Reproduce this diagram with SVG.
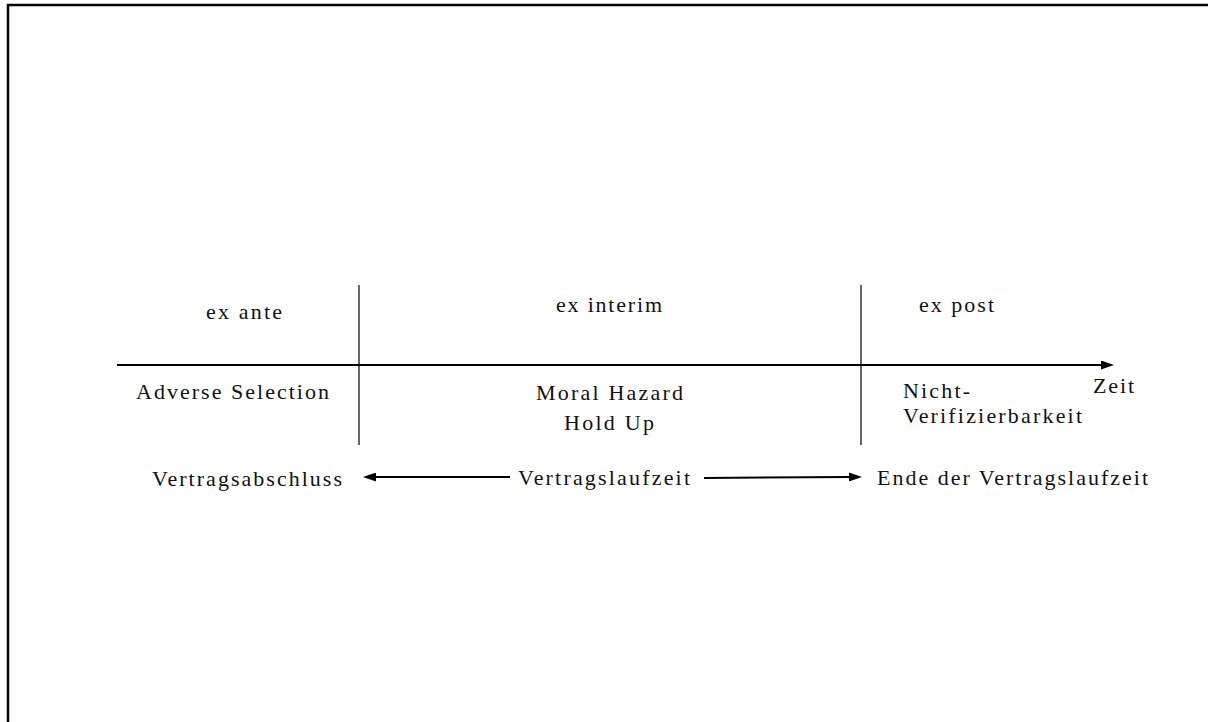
<svg xmlns="http://www.w3.org/2000/svg" width="1208" height="722" viewBox="0 0 1208 722">
<style>
  .thick { stroke: #000; stroke-width: 2; fill: none; }
  .thin { stroke: #000; stroke-width: 1.2; fill: none; }
</style>
<defs>
  <marker id="arrow" markerUnits="userSpaceOnUse" markerWidth="13" markerHeight="9" refX="0" refY="4.5" orient="auto">
    <path d="M0,0 L13,4.5 L0,9 z" fill="#000"/>
  </marker>
</defs>
<rect x="0" y="0" width="1208" height="722" fill="#fff"/>
<g id="frame">
  <line x1="7" y1="5" x2="1208" y2="5" stroke="#000" stroke-width="2.5"/>
  <line x1="8" y1="4" x2="8" y2="722" stroke="#000" stroke-width="2.5"/>
</g>
<g id="connectors">
  <line id="axis" class="thick" x1="117" y1="365" x2="1101" y2="365" marker-end="url(#arrow)"/>
  <line id="divider1" class="thin" x1="359" y1="285" x2="359" y2="445"/>
  <line id="divider2" class="thin" x1="861" y1="285" x2="861" y2="445"/>
  <line id="arrow-left" class="thick" x1="510" y1="477" x2="376" y2="477" marker-end="url(#arrow)"/>
  <line id="arrow-right" class="thick" x1="704" y1="478" x2="849" y2="477" marker-end="url(#arrow)"/>
</g>
<g font-family="Liberation Serif, Times New Roman, serif" font-size="22" fill="#111">
<g id="ex-ante"><text x="206" y="319" textLength="76" lengthAdjust="spacing">ex ante</text></g>
<g id="ex-interim"><text x="556" y="312" textLength="106" lengthAdjust="spacing">ex interim</text></g>
<g id="ex-post"><text x="919" y="312" textLength="75" lengthAdjust="spacing">ex post</text></g>
<g id="adverse-selection"><text x="136" y="399" textLength="193" lengthAdjust="spacing">Adverse Selection</text></g>
<g id="moral-hazard">
  <text x="536" y="400" textLength="147" lengthAdjust="spacing">Moral Hazard</text>
  <text x="564" y="430" textLength="90" lengthAdjust="spacing">Hold Up</text>
</g>
<g id="nicht-verifizierbarkeit">
  <text x="903" y="398" textLength="67" lengthAdjust="spacing">Nicht-</text>
  <text x="903" y="423" textLength="179" lengthAdjust="spacing">Verifizierbarkeit</text>
</g>
<g id="zeit"><text x="1093" y="393" textLength="41" lengthAdjust="spacing">Zeit</text></g>
<g id="vertragsabschluss"><text x="152" y="486" textLength="190" lengthAdjust="spacing">Vertragsabschluss</text></g>
<g id="vertragslaufzeit"><text x="518" y="485" textLength="172" lengthAdjust="spacing">Vertragslaufzeit</text></g>
<g id="ende"><text x="877" y="485" textLength="271" lengthAdjust="spacing">Ende der Vertragslaufzeit</text></g>
</g>
</svg>
